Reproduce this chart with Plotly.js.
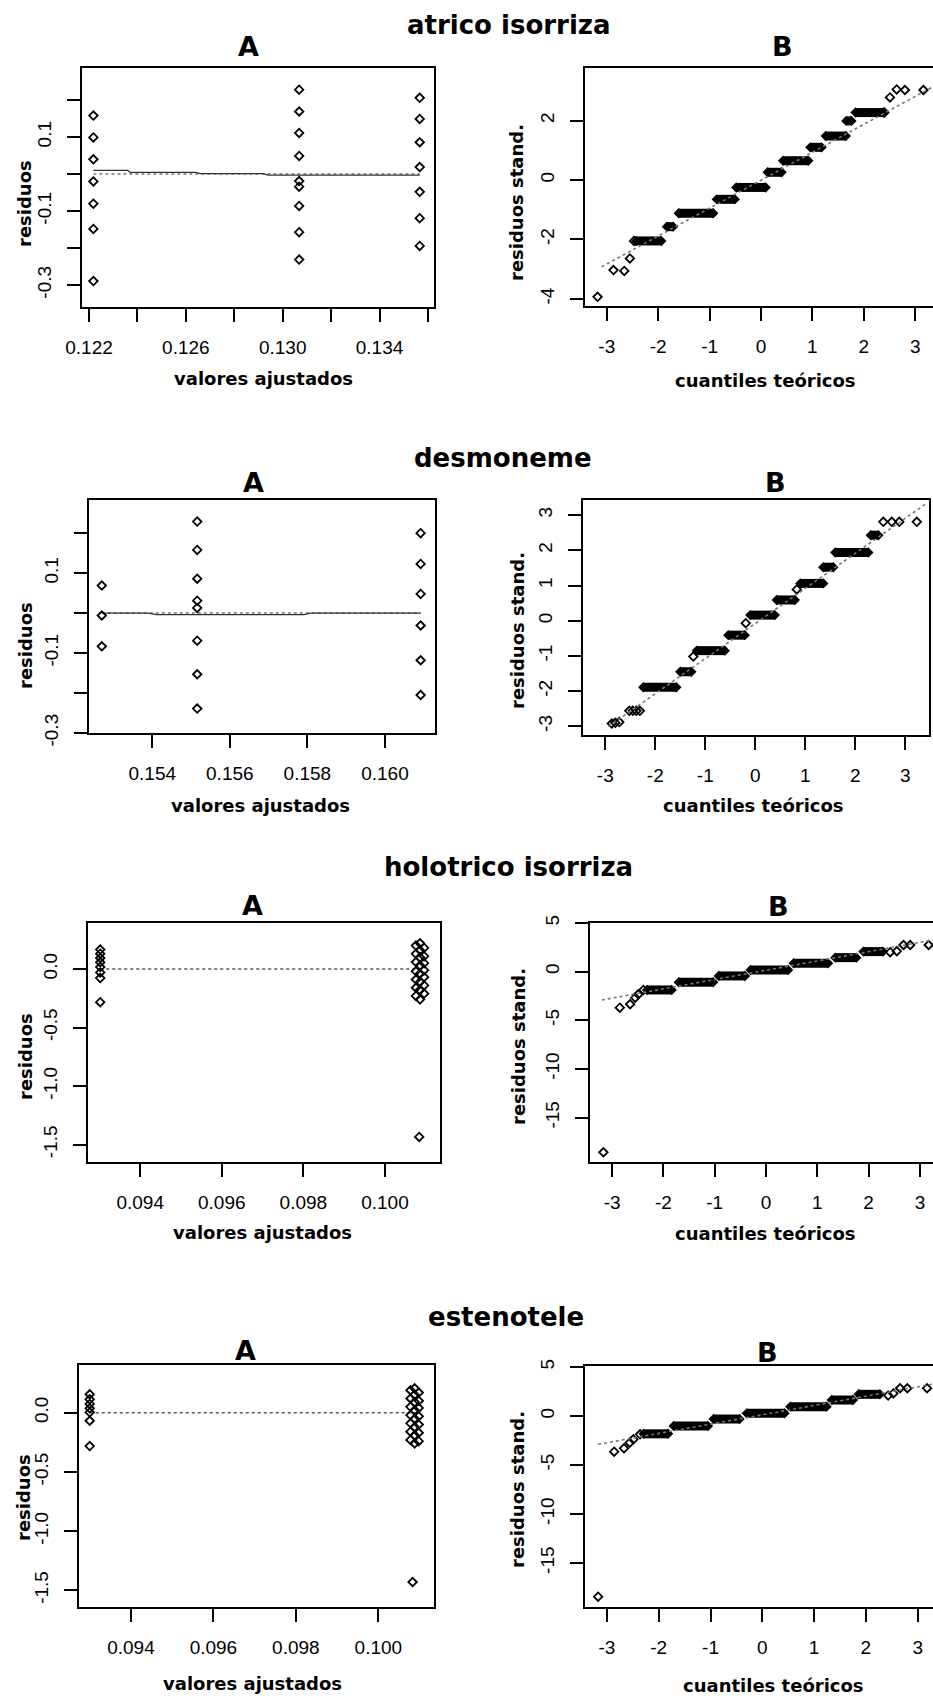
<!DOCTYPE html>
<html>
<head>
<meta charset="utf-8">
<script src="https://cdn.plot.ly/plotly-3.0.1.min.js"></script>
<style>
html,body{margin:0;padding:0;background:#fff;overflow:hidden;}
#chart{width:950px;height:1698px;}
</style>
</head>
<body>
<div id="chart"></div>
<script>
// ---------------- DATA ----------------
const groupTitles = ["atrico isorriza", "desmoneme", "holotrico isorriza", "estenotele"];
const panelLetters = ["A", "B"];
const xTitleA = "valores ajustados";
const xTitleB = "cuantiles teóricos";
const yTitleA = "residuos";
const yTitleB = "residuos stand.";

// --- atrico isorriza : residuals vs fitted
const atrA_x = [0.12218,0.12218,0.12218,0.12218,0.12218,0.12218,0.12218,
                0.13068,0.13068,0.13068,0.13068,0.13068,0.13068,0.13068,0.13068,0.13068,
                0.13566,0.13566,0.13566,0.13566,0.13566,0.13566,0.13566];
const atrA_y = [0.158,0.099,0.040,-0.020,-0.080,-0.148,-0.289,
                0.228,0.169,0.111,0.049,-0.019,-0.034,-0.086,-0.157,-0.231,
                0.206,0.149,0.086,0.019,-0.048,-0.119,-0.194];
const atrA_smooth_x = [0.12218,0.1236,0.1237,0.1264,0.1266,0.1292,0.1294,0.13566];
const atrA_smooth_y = [0.010,0.010,0.0045,0.0045,0.001,0.001,-0.003,-0.003];
const atrA_xticks = [0.122,0.124,0.126,0.128,0.130,0.132,0.134,0.136];
const atrA_xlabels = ["0.122","","0.126","","0.130","","0.134",""];
// --- atrico isorriza : QQ
const atrB_stepY  = [-2.05,-1.57,-1.12,-0.65,-0.25,0.26,0.65,1.10,1.48,1.99,2.27];
const atrB_stepX0 = [-2.43,-1.83,-1.60,-0.86,-0.48,0.13,0.43,0.96,1.26,1.66,1.84];
const atrB_stepX1 = [-1.94,-1.71,-0.93,-0.51,0.09,0.40,0.92,1.18,1.65,1.76,2.38];
const atrB_ptX = [-3.18,-2.87,-2.66,-2.55,-2.47,2.40,2.51,2.64,2.80,3.16];
const atrB_ptY = [-3.93,-3.03,-3.06,-2.64,-2.05,2.27,2.78,3.05,3.03,3.03];
const atrB_lineX = [-3.10,3.55];
const atrB_lineY = [-2.92,3.33];
const atrB_yticks = [-4,-2,0,2];

// --- desmoneme : residuals vs fitted
const desA_x = [0.1527,0.1527,0.1527,
                0.15516,0.15516,0.15516,0.15516,0.15516,0.15516,0.15516,0.15516,
                0.16092,0.16092,0.16092,0.16092,0.16092,0.16092];
const desA_y = [0.069,-0.006,-0.083,
                0.229,0.158,0.086,0.031,0.013,-0.069,-0.153,-0.239,
                0.200,0.123,0.048,-0.031,-0.118,-0.205];
const desA_smooth_x = [0.1527,0.1539,0.1541,0.1579,0.1581,0.16092];
const desA_smooth_y = [0,0,-0.004,-0.004,0,0];
const desA_xticks = [0.154,0.156,0.158,0.160];
const desA_xlabels = ["0.154","0.156","0.158","0.160"];
// --- desmoneme : QQ
const desB_stepY  = [-1.89,-1.45,-0.85,-0.41,0.16,0.59,1.06,1.52,1.94,2.43];
const desB_stepX0 = [-2.24,-1.50,-1.17,-0.54,-0.10,0.43,0.90,1.36,1.60,2.31];
const desB_stepX1 = [-1.58,-1.28,-0.61,-0.21,0.39,0.79,1.36,1.56,2.26,2.46];
const desB_ptX = [-2.87,-2.80,-2.72,-2.52,-2.45,-2.38,-2.31,-1.24,-0.19,0.83,2.56,2.73,2.88,3.23];
const desB_ptY = [-2.92,-2.90,-2.88,-2.56,-2.56,-2.56,-2.56,-1.02,-0.07,0.89,2.81,2.81,2.81,2.81];
const desB_lineX = [-2.94,3.43];
const desB_lineY = [-3.01,3.34];
const desB_yticks = [-3,-2,-1,0,1,2,3];

// --- holotrico isorriza : residuals vs fitted
const holA_x = [0.09302,0.09302,0.09302,0.09302,0.09302,0.09302,0.09302,0.09302,
                0.10076,0.10076,0.10076,0.10076,0.10076,0.10076,0.10076,
                0.10086,0.10086,0.10086,0.10086,0.10086,0.10086,0.10086,0.10086,
                0.10096,0.10096,0.10096,0.10096,0.10096,0.10096,0.10096,
                0.10084];
const holA_y = [0.166,0.131,0.094,0.057,0.017,-0.029,-0.077,-0.283,
                0.20,0.13,0.06,-0.02,-0.09,-0.16,-0.23,
                0.22,0.16,0.10,0.03,-0.04,-0.11,-0.18,-0.26,
                0.18,0.11,0.05,-0.01,-0.07,-0.14,-0.21,
                -1.434];
const holA_zero_x = [0.09302,0.10096];
const holA_zero_y = [0,0];
const holA_xticks = [0.094,0.096,0.098,0.100];
const holA_xlabels = ["0.094","0.096","0.098","0.100"];
// --- holotrico isorriza : QQ
const holB_stepY  = [-1.88,-1.09,-0.44,0.17,0.86,1.44,2.06];
const holB_stepX0 = [-2.32,-1.70,-0.92,-0.30,0.54,1.35,1.90];
const holB_stepX1 = [-1.84,-1.03,-0.41,0.43,1.21,1.76,2.28];
const holB_ptX = [-3.17,-2.85,-2.65,-2.55,-2.49,-2.39,2.42,2.55,2.68,2.81,3.17];
const holB_ptY = [-18.56,-3.70,-3.35,-2.67,-2.33,-1.88,2.00,2.10,2.74,2.74,2.74];
const holB_lineX = [-3.20,3.45];
const holB_lineY = [-2.91,3.44];
const holB_yticks = [-15,-10,-5,0,5];

// --- estenotele : residuals vs fitted
const estA_x = [0.09300,0.09300,0.09300,0.09300,0.09300,0.09300,0.09300,
                0.10078,0.10078,0.10078,0.10078,0.10078,0.10078,0.10078,
                0.10088,0.10088,0.10088,0.10088,0.10088,0.10088,0.10088,0.10088,
                0.10098,0.10098,0.10098,0.10098,0.10098,0.10098,0.10098,
                0.10083];
const estA_y = [0.156,0.113,0.074,0.037,0.003,-0.068,-0.282,
                0.19,0.12,0.05,-0.02,-0.09,-0.16,-0.23,
                0.206,0.15,0.09,0.02,-0.05,-0.12,-0.19,-0.259,
                0.17,0.10,0.04,-0.03,-0.10,-0.17,-0.24,
                -1.43];
const estA_zero_x = [0.09300,0.10098];
const estA_zero_y = [0,0];
const estA_xticks = [0.094,0.096,0.098,0.100];
const estA_xlabels = ["0.094","0.096","0.098","0.100"];
// --- estenotele : QQ
const estB_stepY  = [-1.82,-1.02,-0.31,0.27,0.95,1.63,2.21];
const estB_stepX0 = [-2.29,-1.71,-0.94,-0.30,0.54,1.34,1.86];
const estB_stepX1 = [-1.82,-1.05,-0.44,0.43,1.24,1.75,2.27];
const estB_ptX = [-3.17,-2.86,-2.67,-2.56,-2.49,-2.36,2.43,2.53,2.66,2.80,3.18];
const estB_ptY = [-18.44,-3.64,-3.30,-2.72,-2.38,-1.87,2.10,2.30,2.83,2.83,2.83];
const estB_lineX = [-3.17,3.50];
const estB_lineY = [-2.89,3.45];
const estB_yticks = [-15,-10,-5,0,5];

const qqXticks = [-3,-2,-1,0,1,2,3];
const residYticks = [-0.3,-0.2,-0.1,0,0.1,0.2];
const residYlabels = ["-0.3","","-0.1","","0.1",""];
const residYticks2 = [-1.5,-1.0,-0.5,0.0];
const residYlabels2 = ["-1.5","-1.0","-0.5","0.0"];

// ---------------- LAYOUT HELPERS ----------------
const W = 950, H = 1698;
const fx = p => p / W;
const fy = p => 1 - p / H;
const lbl = v => String(v);

const TICKFONT = {family:'Liberation Sans, Arial, sans-serif', size:19, color:'#000'};
const AXTITLEFONT = {family:'DejaVu Sans, sans-serif', size:18, color:'#000'};
const GROUPFONT = {family:'DejaVu Sans, sans-serif', size:26, color:'#000'};
const PANELFONT = {family:'DejaVu Sans, sans-serif', size:27, color:'#000'};

function axisBase(){
  return {showline:true, mirror:true, linecolor:'#000', linewidth:2,
          ticks:'outside', ticklen:13, tickwidth:2, tickcolor:'#000',
          showgrid:false, zeroline:false, tickfont:TICKFONT, fixedrange:true,
          tickmode:'array'};
}

// panel geometry in pixels: box left/right/top/bottom; ranges
const panels = [
  {box:[82,434,68,307],  xr:[0.12171,0.13625], yr:[-0.359,0.2865],
   xt:atrA_xticks, xl:atrA_xlabels, yt:residYticks, yl:residYlabels},
  {box:[585,945,68,306], xr:[-3.424,3.580], yr:[-4.24,3.77],
   xt:qqXticks, xl:qqXticks.map(lbl), yt:atrB_yticks, yl:atrB_yticks.map(lbl)},
  {box:[89,435,500,733], xr:[0.15237,0.16129], yr:[-0.300,0.283],
   xt:desA_xticks, xl:desA_xlabels, yt:residYticks, yl:residYlabels},
  {box:[583,929,500,735], xr:[-3.446,3.474], yr:[-3.247,3.43],
   xt:qqXticks, xl:qqXticks.map(lbl), yt:desB_yticks, yl:desB_yticks.map(lbl)},
  {box:[88,440,923,1162], xr:[0.09272,0.10135], yr:[-1.648,0.393],
   xt:holA_xticks, xl:holA_xlabels, yt:residYticks2, yl:residYlabels2},
  {box:[590,945,923,1162], xr:[-3.431,3.489], yr:[-19.56,5.0],
   xt:qqXticks, xl:qqXticks.map(lbl), yt:holB_yticks, yl:holB_yticks.map(lbl)},
  {box:[79,434,1365,1607], xr:[0.09274,0.10135], yr:[-1.641,0.403],
   xt:estA_xticks, xl:estA_xlabels, yt:residYticks2, yl:residYlabels2},
  {box:[585,945,1366,1607], xr:[-3.423,3.527], yr:[-19.49,5.1],
   xt:qqXticks, xl:qqXticks.map(lbl), yt:estB_yticks, yl:estB_yticks.map(lbl)}
];

const layout = {
  width:W, height:H, margin:{l:0,r:0,t:0,b:0},
  paper_bgcolor:'#fff', plot_bgcolor:'#fff', showlegend:false,
  font:{family:'Liberation Sans, Arial, sans-serif', color:'#000'},
  annotations:[]
};

panels.forEach((p,i)=>{
  const n = i+1;
  const xa = Object.assign(axisBase(), {
    domain:[fx(p.box[0]), fx(p.box[1])], range:p.xr, anchor:'y'+(n===1?'':n),
    tickvals:p.xt, ticktext:p.xl, ticklabelstandoff:9});
  const ya = Object.assign(axisBase(), {
    domain:[fy(p.box[3]), fy(p.box[2])], range:p.yr, anchor:'x'+(n===1?'':n),
    tickvals:p.yt, ticktext:p.yl, tickangle:-90, ticklabelstandoff:8});
  layout['xaxis'+(n===1?'':n)] = xa;
  layout['yaxis'+(n===1?'':n)] = ya;
});

function ann(text, x, y, font, angle){
  layout.annotations.push({text:text, xref:'paper', yref:'paper', x:fx(x), y:fy(y),
    xanchor:'center', yanchor:'middle', showarrow:false, font:font,
    textangle:angle||0});
}
const bold = s => '<b>'+s+'</b>';

// group titles
ann(bold(groupTitles[0]), 509, 25, GROUPFONT);
ann(bold(groupTitles[1]), 503, 458, GROUPFONT);
ann(bold(groupTitles[2]), 508, 867, GROUPFONT);
ann(bold(groupTitles[3]), 506, 1317, GROUPFONT);
// panel letters
ann(bold(panelLetters[0]), 248, 47, PANELFONT); ann(bold(panelLetters[1]), 782, 47, PANELFONT);
ann(bold(panelLetters[0]), 253, 482, PANELFONT); ann(bold(panelLetters[1]), 775, 482, PANELFONT);
ann(bold(panelLetters[0]), 252, 905, PANELFONT); ann(bold(panelLetters[1]), 778, 906, PANELFONT);
ann(bold(panelLetters[0]), 245, 1350, PANELFONT); ann(bold(panelLetters[1]), 767, 1352, PANELFONT);
// x titles
ann(bold(xTitleA), 263, 378, AXTITLEFONT); ann(bold(xTitleB), 765, 380, AXTITLEFONT);
ann(bold(xTitleA), 260, 805, AXTITLEFONT); ann(bold(xTitleB), 753, 805, AXTITLEFONT);
ann(bold(xTitleA), 262, 1232, AXTITLEFONT); ann(bold(xTitleB), 765, 1233, AXTITLEFONT);
ann(bold(xTitleA), 252, 1683, AXTITLEFONT); ann(bold(xTitleB), 773, 1685, AXTITLEFONT);
// y titles
ann(bold(yTitleA), 25, 204, AXTITLEFONT, -90); ann(bold(yTitleB), 517, 203, AXTITLEFONT, -90);
ann(bold(yTitleA), 25, 646, AXTITLEFONT, -90); ann(bold(yTitleB), 517, 631, AXTITLEFONT, -90);
ann(bold(yTitleA), 25, 1057, AXTITLEFONT, -90); ann(bold(yTitleB), 518, 1047, AXTITLEFONT, -90);
ann(bold(yTitleA), 23, 1498, AXTITLEFONT, -90); ann(bold(yTitleB), 517, 1490, AXTITLEFONT, -90);

// ---------------- TRACES ----------------
const traces = [];
function ax(n){ return {xaxis:'x'+(n===1?'':n), yaxis:'y'+(n===1?'':n)}; }
function pts(x,y,n){
  traces.push(Object.assign({type:'scatter', mode:'markers', x:x, y:y, hoverinfo:'skip',
    marker:{symbol:'diamond-open', size:6.5, color:'#000', line:{width:1.8, color:'#000'}}}, ax(n)));
}
function line(x,y,n,dash,color,width){
  traces.push(Object.assign({type:'scatter', mode:'lines', x:x, y:y, hoverinfo:'skip',
    line:{dash:dash, color:color, width:width}}, ax(n)));
}
function steps(ys,x0,x1,n){
  const X=[],Y=[],EX=[],EY=[];
  ys.forEach((v,i)=>{ X.push(x0[i],x1[i],null); Y.push(v,v,null);
                      EX.push(x0[i],x1[i]); EY.push(v,v); });
  traces.push(Object.assign({type:'scatter', mode:'lines', x:X, y:Y, hoverinfo:'skip',
    line:{color:'#000', width:9}}, ax(n)));
  traces.push(Object.assign({type:'scatter', mode:'markers', x:EX, y:EY, hoverinfo:'skip',
    marker:{symbol:'diamond', size:8, color:'#000'}}, ax(n)));
}

// row 1
line([atrA_x[0], atrA_x[atrA_x.length-1]], [0,0], 1, 'dot', '#777', 1.5);
line(atrA_smooth_x, atrA_smooth_y, 1, 'solid', '#333', 1.3);
pts(atrA_x, atrA_y, 1);
steps(atrB_stepY, atrB_stepX0, atrB_stepX1, 2);
pts(atrB_ptX, atrB_ptY, 2);
line(atrB_lineX, atrB_lineY, 2, 'dot', '#777', 1.6);
// row 2
line([desA_x[0], desA_x[desA_x.length-1]], [0,0], 3, 'dot', '#777', 1.5);
line(desA_smooth_x, desA_smooth_y, 3, 'solid', '#333', 1.3);
pts(desA_x, desA_y, 3);
steps(desB_stepY, desB_stepX0, desB_stepX1, 4);
pts(desB_ptX, desB_ptY, 4);
line(desB_lineX, desB_lineY, 4, 'dot', '#777', 1.6);
// row 3
line(holA_zero_x, holA_zero_y, 5, 'dot', '#555', 1.5);
pts(holA_x, holA_y, 5);
steps(holB_stepY, holB_stepX0, holB_stepX1, 6);
pts(holB_ptX, holB_ptY, 6);
line(holB_lineX, holB_lineY, 6, 'dot', '#777', 1.6);
// row 4
line(estA_zero_x, estA_zero_y, 7, 'dot', '#555', 1.5);
pts(estA_x, estA_y, 7);
steps(estB_stepY, estB_stepX0, estB_stepX1, 8);
pts(estB_ptX, estB_ptY, 8);
line(estB_lineX, estB_lineY, 8, 'dot', '#777', 1.6);

Plotly.newPlot('chart', traces, layout, {staticPlot:true, displayModeBar:false});
</script>
</body>
</html>
